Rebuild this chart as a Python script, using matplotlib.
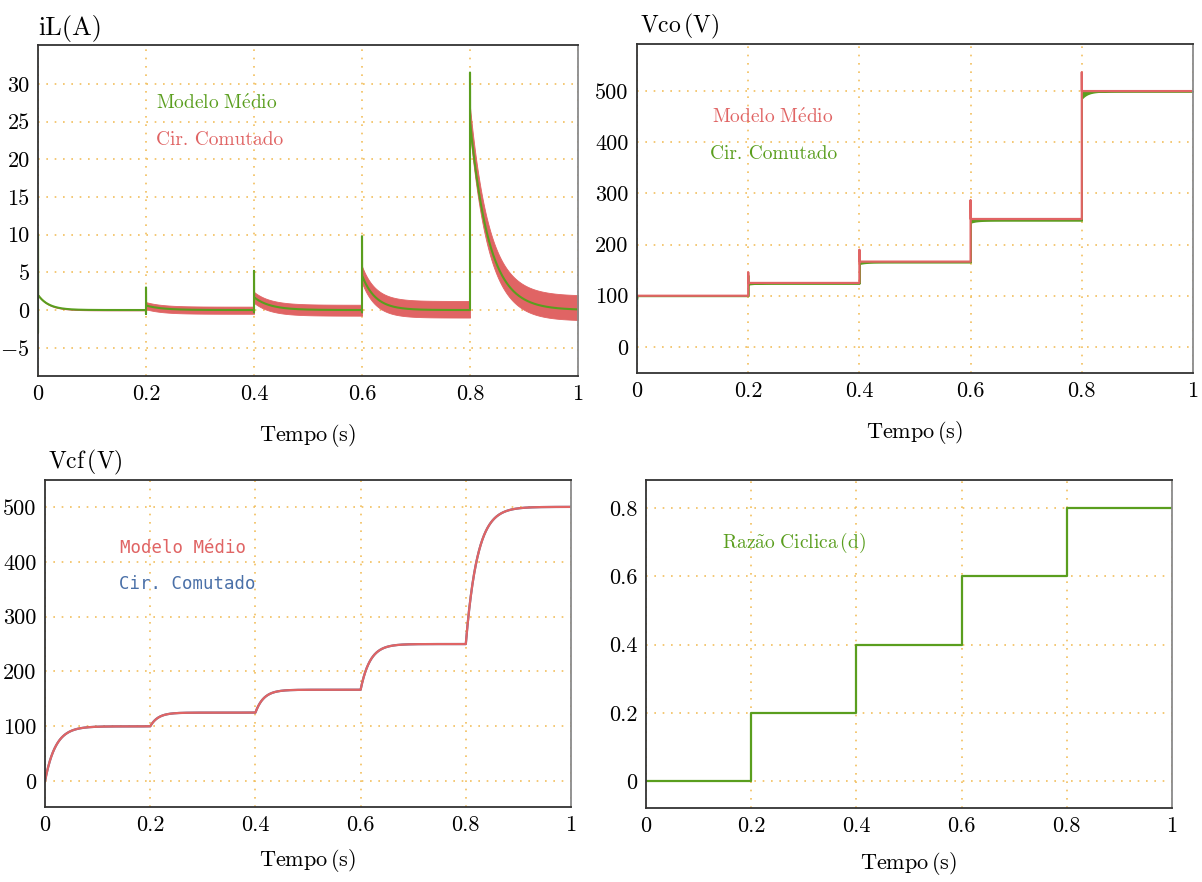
import numpy as np
import matplotlib
matplotlib.use("Agg")
import matplotlib.pyplot as plt

plt.rcParams['font.family'] = ['cmr10', 'DejaVu Serif']
plt.rcParams['mathtext.fontset'] = 'cm'
plt.rcParams['axes.unicode_minus'] = False

# ---- data -------------------------------------------------------------
step_times = [0.0, 0.2, 0.4, 0.6, 0.8]
duty = [0.0, 0.2, 0.4, 0.6, 0.8]

# output voltage Vco (V): steady levels and overshoot peaks at each step
vco_levels = [100.0, 125.0, 166.7, 250.0, 500.0]
vco_peaks = [100.0, 146.0, 190.0, 287.0, 537.0]
vco_sw_offset = [0.5, 1.0, 1.5, 3.0, 0.5]      # switched circuit sits slightly lower
vco_sw_dip = [0.0, 2.0, 3.0, 4.0, 14.0]         # dip right after each step
vco_sw_dip_tau = [0.01, 0.01, 0.01, 0.01, 0.011]

# inductor current iL (A)
il_spike_hi = [10.0, 3.0, 5.2, 9.8, 31.5]
il_spike_lo = [-3.0, -0.5, -0.3, -0.3, 0.0]
il_start = [2.0, 0.6, 1.7, 4.6, 25.0]
il_tau = [0.02, 0.03, 0.03, 0.025, 0.035]
il_rip_up = [0.05, 0.45, 0.7, 1.2, 1.9]
il_rip_dn = [0.05, 0.5, 0.75, 1.0, 1.4]

# capacitor voltage Vcf (V)
vcf_levels = [100.0, 125.0, 166.7, 250.0, 500.0]
vcf_tau = [0.02, 0.015, 0.016, 0.018, 0.022]

ticks_x = [0, 0.2, 0.4, 0.6, 0.8, 1]
ticks_x_lab = ['0', '0.2', '0.4', '0.6', '0.8', '1']

GREEN = '#5a9e1e'
RED = '#e06464'
BLUE = '#4a70a8'
GRID = '#f2bf5e'

N_SEG = 4000


def seg_time(k):
    t0 = step_times[k]
    t1 = step_times[k + 1] if k + 1 < len(step_times) else 1.0
    return t0, np.linspace(t0, t1, N_SEG)


# ---- build the waveforms ----------------------------------------------
# iL average model with spikes at each switching instant
il_t, il_avg, il_up, il_dn = [], [], [], []
for k in range(5):
    t0, ts = seg_time(k)
    y = il_start[k] * np.exp(-(ts - t0) / il_tau[k])
    prev = il_avg[-1][-1] if il_avg else 0.0
    tt = np.concatenate([[t0, t0, t0], ts])
    yy = np.concatenate([[prev, il_spike_lo[k], il_spike_hi[k]], y])
    up = np.concatenate([[0, 0, 0], np.full_like(ts, il_rip_up[k])])
    dn = np.concatenate([[0, 0, 0], np.full_like(ts, il_rip_dn[k])])
    il_t.append(tt); il_avg.append(yy); il_up.append(up); il_dn.append(dn)
il_t = np.concatenate(il_t); il_avg = np.concatenate(il_avg)
il_up = np.concatenate(il_up); il_dn = np.concatenate(il_dn)

# Vco average (steps with overshoot spikes) and switched circuit
vco_t, vco_avg, vco_sw_hi, vco_sw_lo = [], [], [], []
for k in range(5):
    t0, ts = seg_time(k)
    prev = vco_avg[-1][-1] if vco_avg else vco_levels[0]
    tt = np.concatenate([[t0, t0, t0], ts])
    yy = np.concatenate([[prev, vco_peaks[k], vco_levels[k]],
                         np.full_like(ts, vco_levels[k])])
    dip = vco_sw_dip[k] * np.exp(-(ts - t0) / vco_sw_dip_tau[k])
    hi = np.concatenate([[prev, vco_peaks[k] - 6, vco_levels[k]],
                         vco_levels[k] - 0.2 * vco_sw_offset[k] + 0 * ts])
    lo = np.concatenate([[prev, vco_levels[k], vco_levels[k]],
                         vco_levels[k] - vco_sw_offset[k] - dip])
    vco_t.append(tt); vco_avg.append(yy); vco_sw_hi.append(hi); vco_sw_lo.append(lo)
vco_t = np.concatenate(vco_t); vco_avg = np.concatenate(vco_avg)
vco_sw_hi = np.concatenate(vco_sw_hi); vco_sw_lo = np.concatenate(vco_sw_lo)

# Vcf first-order rise between levels
vcf_t, vcf_y = [], []
cur = 0.0
for k in range(5):
    t0, ts = seg_time(k)
    y = vcf_levels[k] + (cur - vcf_levels[k]) * np.exp(-(ts - t0) / vcf_tau[k])
    cur = y[-1]
    vcf_t.append(ts); vcf_y.append(y)
vcf_t = np.concatenate(vcf_t); vcf_y = np.concatenate(vcf_y)

# duty cycle staircase
d_t = np.array(step_times + [1.0])
d_y = np.array(duty + [duty[-1]])

# ---- figure -----------------------------------------------------------
fig = plt.figure(figsize=(12.02, 8.82), dpi=100)

W, H = 1202.0, 882.0


def make_axes(l, r, top, bot):
    return fig.add_axes([l / W, 1 - bot / H, (r - l) / W, (bot - top) / H])


ax1 = make_axes(38, 578, 45, 376)
ax2 = make_axes(637, 1193, 44, 373)
ax3 = make_axes(45, 571, 480, 807)
ax4 = make_axes(646, 1172, 480, 808)

TICK_FS = 16
LEG_FS = 14
XLABEL = r'Tempo$\,$(s)'


def style(ax, yticks, ylabels, ylim, xpad):
    ax.set_xlim(0, 1)
    ax.set_ylim(*ylim)
    ax.set_xticks(ticks_x)
    ax.set_xticklabels(ticks_x_lab)
    ax.set_yticks(yticks)
    ax.set_yticklabels(ylabels)
    ax.tick_params(length=0, labelsize=TICK_FS, pad=6)
    ax.grid(True, color=GRID, linestyle=(0, (1, 4)), linewidth=1.2)
    ax.set_axisbelow(True)
    for s in ['left', 'bottom', 'top']:
        ax.spines[s].set_color('#333333')
        ax.spines[s].set_linewidth(1.3)
    ax.spines['right'].set_color('#8a8a8a')
    ax.spines['right'].set_linewidth(1.3)
    ax.set_xlabel(XLABEL, fontsize=16, labelpad=xpad)


# iL
ax1.fill_between(il_t, il_avg - il_dn, il_avg + il_up, color=RED, linewidth=0.6,
                 edgecolor=RED)
ax1.plot(il_t, il_avg, color=GREEN, linewidth=1.5)
style(ax1, [-5, 0, 5, 10, 15, 20, 25, 30],
      ['$-5$', '0', '5', '10', '15', '20', '25', '30'], (-8.75, 35.15), 13)
ax1.text(0.0, 1.01, 'iL(A)', transform=ax1.transAxes, fontsize=19,
         ha='left', va='bottom')
ax1.text(0.218, 0.825, r'$\mathrm{Modelo\ M\acute{e}dio}$', transform=ax1.transAxes,
         fontsize=LEG_FS, color=GREEN, ha='left', va='center')
ax1.text(0.218, 0.712, 'Cir. Comutado', transform=ax1.transAxes,
         fontsize=LEG_FS, color=RED, ha='left', va='center')

# Vco
ax2.fill_between(vco_t, vco_sw_lo, vco_sw_hi, color=GREEN, linewidth=1.0,
                 edgecolor=GREEN)
ax2.plot(vco_t, vco_avg, color=RED, linewidth=1.6)
style(ax2, [0, 100, 200, 300, 400, 500],
      ['0', '100', '200', '300', '400', '500'], (-51, 592), 13)
ax2.text(0.005, 1.01, r'Vco$\,$(V)', transform=ax2.transAxes, fontsize=17,
         ha='left', va='bottom')
ax2.text(0.135, 0.777, r'$\mathrm{Modelo\ M\acute{e}dio}$', transform=ax2.transAxes,
         fontsize=LEG_FS, color=RED, ha='left', va='center')
ax2.text(0.131, 0.665, 'Cir. Comutado', transform=ax2.transAxes,
         fontsize=LEG_FS, color=GREEN, ha='left', va='center')

# Vcf
ax3.plot(vcf_t, vcf_y, color=BLUE, linewidth=1.6)
ax3.plot(vcf_t, vcf_y, color=RED, linewidth=1.6)
style(ax3, [0, 100, 200, 300, 400, 500],
      ['0', '100', '200', '300', '400', '500'], (-47, 549), 9)
ax3.text(0.005, 1.01, r'Vcf$\,$(V)', transform=ax3.transAxes, fontsize=17,
         ha='left', va='bottom')
ax3.text(0.143, 0.792, 'Modelo Médio', transform=ax3.transAxes,
         fontsize=12.5, color=RED, ha='left', va='center', family='DejaVu Sans Mono')
ax3.text(0.141, 0.682, 'Cir. Comutado', transform=ax3.transAxes,
         fontsize=12.5, color=BLUE, ha='left', va='center', family='DejaVu Sans Mono')

# duty cycle
ax4.step(d_t, d_y, where='post', color=GREEN, linewidth=1.6)
style(ax4, [0, 0.2, 0.4, 0.6, 0.8], ['0', '0.2', '0.4', '0.6', '0.8'],
      (-0.079, 0.882), 10)
ax4.text(0.145, 0.807, r'$\mathrm{Raz\tilde{a}o\ Ciclica\,(d)}$', transform=ax4.transAxes,
         fontsize=LEG_FS, color=GREEN, ha='left', va='center')

fig.savefig('out.png', dpi=100)
